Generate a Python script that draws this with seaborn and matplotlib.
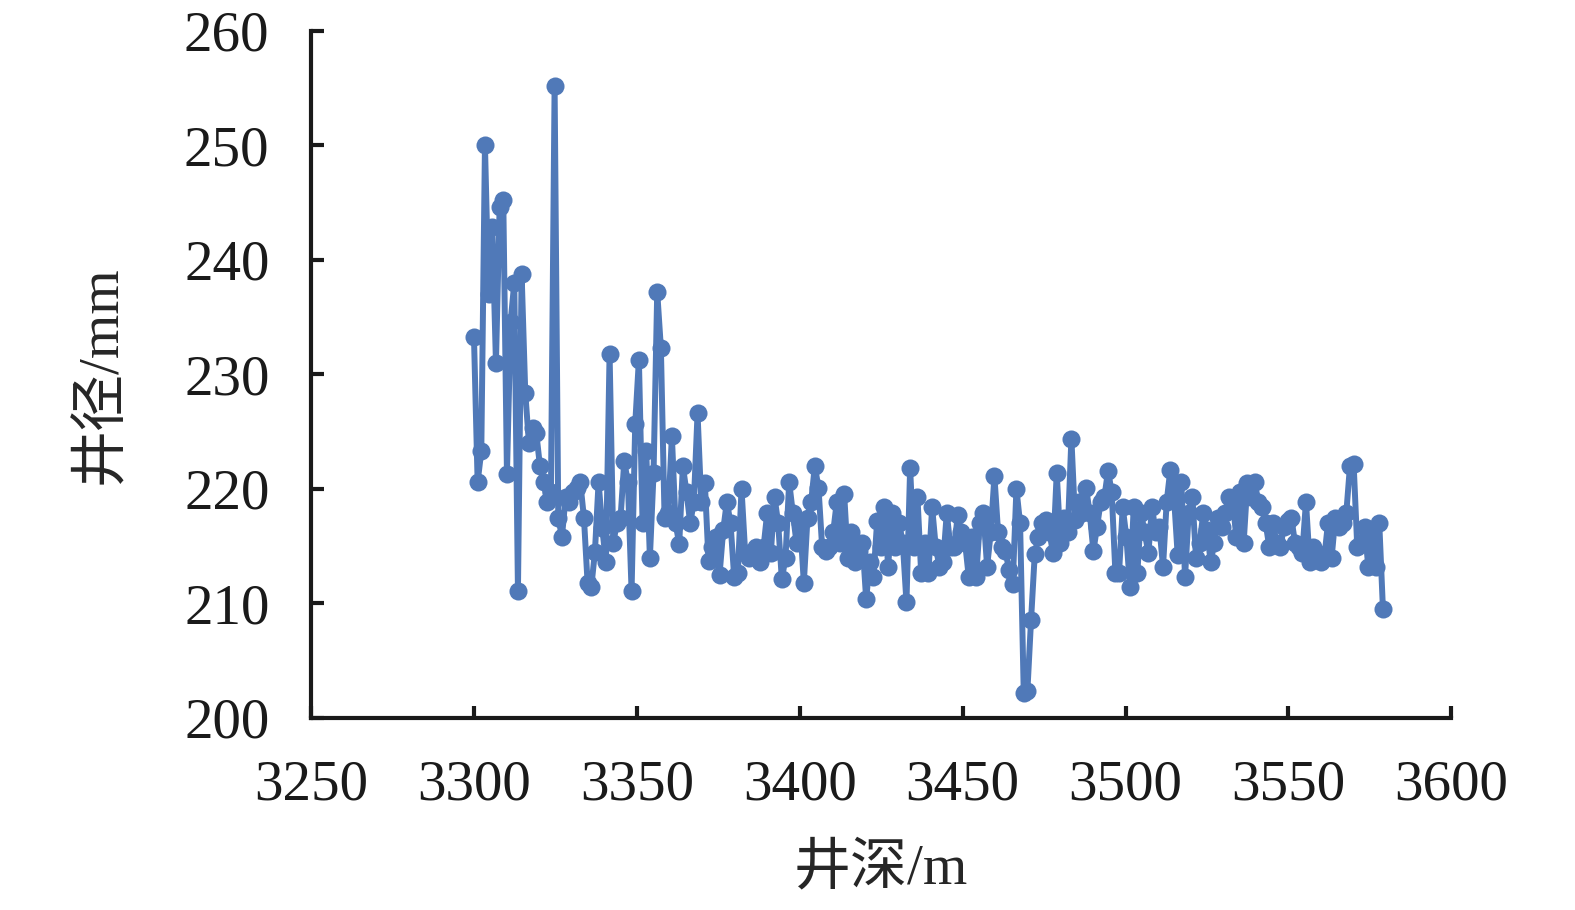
import numpy as np
import pandas as pd
import matplotlib
matplotlib.use('Agg')
import matplotlib.pyplot as plt
import seaborn as sns

# borehole diameter (mm) read along depth, roughly 1 m sampling
diameter = [
    233.3, 220.6, 223.3, 250.0, 237.0, 242.9, 231.0, 244.6, 245.2, 221.3,
    234.6, 238.0, 211.1, 238.8, 228.4, 224.0, 225.3, 224.9, 222.0, 220.6,
    218.9, 219.7, 255.2, 217.5, 215.8, 219.3, 218.9, 219.7, 220.1, 220.6,
    217.5, 211.8, 211.4, 214.5, 220.6, 216.6, 213.6, 231.8, 215.3, 217.0,
    217.5, 222.4, 220.6, 211.1, 225.7, 231.3, 217.0, 223.3, 214.0, 221.4,
    237.2, 232.3, 217.5, 217.9, 224.6, 217.0, 215.2, 222.0, 219.7, 217.0,
    218.9, 226.6, 218.9, 220.5, 213.7, 214.9, 215.8, 212.5, 216.4, 218.9,
    217.0, 212.3, 212.7, 220.0, 214.4, 214.0, 214.6, 214.9, 213.6, 214.9,
    217.9, 214.4, 219.3, 217.0, 212.1, 214.0, 220.6, 217.9, 215.3, 217.0,
    211.8, 217.5, 218.9, 222.0, 220.1, 214.9, 214.6, 214.9, 216.2, 218.9,
    215.3, 219.6, 214.0, 216.2, 213.6, 214.6, 215.3, 210.4, 213.6, 212.3,
    217.2, 214.9, 218.4, 213.2, 217.9, 214.9, 217.0, 215.3, 210.1, 221.8,
    214.9, 219.3, 212.7, 215.3, 212.7, 218.4, 214.9, 213.2, 213.6, 217.9,
    214.9, 214.9, 217.7, 216.2, 215.3, 212.3, 215.8, 212.3, 217.0, 217.9,
    213.2, 216.2, 221.1, 216.2, 214.9, 214.6, 212.9, 211.7, 220.0, 217.0,
    202.2, 202.4, 208.6, 214.3, 215.8, 217.0, 217.3, 216.2, 214.4, 221.4,
    215.3, 217.5, 216.2, 224.4, 217.3, 218.9, 217.9, 220.1, 217.9, 214.6,
    216.7, 218.9, 219.3, 221.6, 219.7, 212.7, 212.7, 218.4, 215.8, 211.4,
    218.4, 212.7, 217.9, 216.2, 214.4, 218.4, 216.2, 216.7, 213.2, 218.9,
    221.7, 219.3, 214.2, 220.6, 212.3, 217.9, 219.3, 214.0, 215.3, 217.9,
    216.4, 213.6, 215.3, 217.5, 216.7, 217.9, 219.3, 218.9, 215.8, 219.7,
    215.3, 220.5, 219.3, 220.6, 218.9, 218.4, 217.0, 214.9, 217.0, 215.3,
    214.9, 216.7, 217.2, 217.5, 215.3, 214.9, 214.4, 218.9, 213.6, 214.9,
    214.4, 213.6, 214.0, 217.0, 214.0, 217.5, 216.7, 217.0, 217.9, 222.0,
    222.2, 214.9, 215.3, 216.7, 213.2, 216.2, 213.2, 217.0, 209.5,
]
depth_start = 3300.0
depth_end = 3579.0
depth = np.linspace(depth_start, depth_end, len(diameter))

df = pd.DataFrame({'depth': depth, 'diameter': diameter})

sns.set_style('ticks')
plt.rcParams['font.family'] = ['Liberation Serif', 'Noto Sans CJK SC']

fig = plt.figure(figsize=(15.75, 9.1), dpi=100)
ax = fig.add_axes([0.1975, 0.211, 0.724, 0.755])

sns.lineplot(x='depth', y='diameter', data=df, ax=ax, color='#5079B8',
             linewidth=4.3, marker='o', markersize=13, markeredgewidth=0)

ax.set_xlim(3250, 3600)
ax.set_ylim(200, 260)
ax.set_xticks(range(3250, 3601, 50))
ax.set_yticks(range(200, 261, 10))
for side in ['top', 'right']:
    ax.spines[side].set_visible(False)
for side in ['left', 'bottom']:
    ax.spines[side].set_linewidth(3)
    ax.spines[side].set_color('#1a1a1a')
ax.tick_params(direction='in', length=9, width=3, colors='#1a1a1a',
               labelsize=41, pad=30)
ax.set_xlabel('井深/m', fontsize=41, labelpad=22)
ax.set_ylabel('井径/mm', fontsize=41, labelpad=40)

fig.savefig('out.png', dpi=100)
